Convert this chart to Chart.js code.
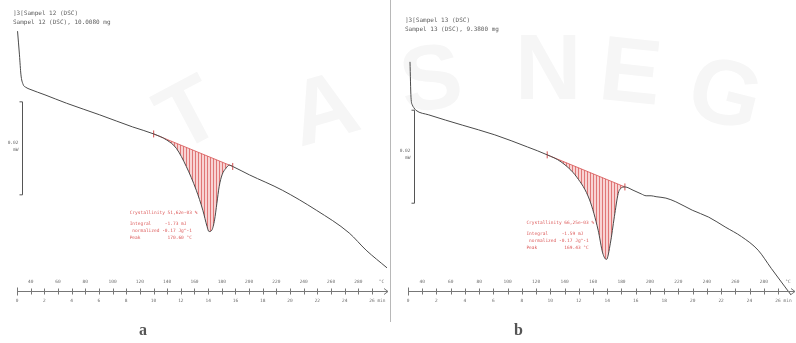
<!DOCTYPE html>
<html>
<head>
<meta charset="utf-8">
<script src="https://cdn.jsdelivr.net/npm/chart.js@4.4.1/dist/chart.umd.min.js"></script>
<style>
  html, body { margin: 0; padding: 0; background: #fff; }
  #wrap { position: relative; width: 796px; height: 343px; overflow: hidden; background: #fff; }
  #wrap canvas { position: absolute; top: 0; }
  #cA { left: 0; }
  #cB { left: 392px; }
  #divider { position: absolute; left: 390px; top: 0; width: 1px; height: 322px; background: #b8b8b8; }
  .tag { position: absolute; font: bold 16px "Liberation Serif", serif; color: #555; }
  .wm { position: absolute; font: bold 92px "Liberation Sans", sans-serif; color: #f6f6f6; transform-origin: center; }
</style>
</head>
<body>
<div id="wrap">
  <div class="wm" style="left:160px;top:60px;transform:rotate(-28deg)">T</div>
  <div class="wm" style="left:290px;top:55px;transform:rotate(-16deg)">A</div>
  <div class="wm" style="left:400px;top:25px;transform:rotate(-8deg)">S</div>
  <div class="wm" style="left:515px;top:15px;">N</div>
  <div class="wm" style="left:600px;top:18px;transform:rotate(6deg)">E</div>
  <div class="wm" style="left:690px;top:40px;transform:rotate(14deg)">G</div>
  <canvas id="cA" width="392" height="343"></canvas>
  <canvas id="cB" width="404" height="343"></canvas>
  <div id="divider"></div>
  <div class="tag" style="left:139px;top:321px">a</div>
  <div class="tag" style="left:514px;top:321px">b</div>
</div>
<script>
// Heating programme: 30 °C start, 10 K/min
const startTemp = 30;
const heatRate = 10;

// Axis annotations
const tempTicks = [40, 60, 80, 100, 120, 140, 160, 180, 200, 220, 240, 260, 280];
const minuteTicks = [0, 2, 4, 6, 8, 10, 12, 14, 16, 18, 20, 22, 24, 26];
const scaleBarMW = 0.02;

// Sampel 12 — temperature (°C) and heat flow (mW)
const tempA = [30.4, 31.8, 32.9, 34.4, 36.6, 39.5, 50.5, 66.3, 90.6, 114.7, 130.1, 139.6, 146.7, 154.0,
  161.3, 166.1, 169.2, 170.6, 172.7, 174.7, 176.4, 178.1, 180.2, 183.0, 185.6, 188.0, 200.2, 224.3,
  249.2, 273.3, 285.7, 301.0];
const heatA = [-0.0004, -0.0055, -0.0098, -0.0118, -0.0125, -0.0129, -0.0141, -0.0159, -0.0184, -0.0210,
  -0.0225, -0.0238, -0.0256, -0.0295, -0.0346, -0.0389, -0.0424, -0.0435, -0.0432, -0.0410, -0.0374,
  -0.0338, -0.0313, -0.0299, -0.0292, -0.0295, -0.0313, -0.0346, -0.0389, -0.0438, -0.0475, -0.0513];
const baseTempA = [130.1, 188.0];
const baseHeatA = [-0.0225, -0.0295];
const titleA = [']3[Sampel 12 (DSC)', 'Sampel 12 (DSC), 10.0080 mg'];
const resultA = { crystallinity: '51,62e-03 %', integral: '-1.73 mJ', normalized: '-0.17 Jg^-1' };

// Sampel 13 — temperature (°C) and heat flow (mW)
const tempB = [31.4, 32.1, 33.1, 34.2, 35.5, 44.6, 68.1, 91.0, 113.9, 127.8, 137.5, 148.6, 157.6, 163.6,
  166.8, 169.43, 172.2, 175.0, 177.7, 179.2, 182.4, 188.1, 193.9, 197.3, 200.8, 204.3, 211.2, 218.2,
  229.7, 241.3, 252.8, 264.4, 276.0, 285.2, 294.9, 299.8];
const heatB = [-0.0070, -0.0146, -0.0163, -0.0169, -0.0174, -0.0184, -0.0206, -0.0227, -0.0253, -0.0270,
  -0.0285, -0.0318, -0.0367, -0.0432, -0.0481, -0.0495, -0.0460, -0.0403, -0.0353, -0.0343, -0.0339,
  -0.0346, -0.0354, -0.0358, -0.0358, -0.0360, -0.0363, -0.0371, -0.0389, -0.0404, -0.0425, -0.0446,
  -0.0475, -0.0514, -0.0554, -0.0574];
const baseTempB = [127.8, 182.4];
const baseHeatB = [-0.0270, -0.0339];
const titleB = [']3[Sampel 13 (DSC)', 'Sampel 13 (DSC), 9.3800 mg'];
const resultB = { crystallinity: '66,25e-03 %', integral: '-1.59 mJ', normalized: '-0.17 Jg^-1' };

const mono = s => s + 'px "DejaVu Sans Mono", monospace';
const zip = (xs, ys) => xs.map((x, i) => ({ x: x, y: ys[i] }));

function hatchPattern() {
  const c = document.createElement('canvas');
  c.width = 3; c.height = 4;
  const g = c.getContext('2d');
  g.fillStyle = 'rgba(243,176,176,0.55)';
  g.fillRect(0, 0, 3, 4);
  g.fillStyle = 'rgba(214,80,80,0.7)';
  g.fillRect(0, 0, 1, 4);
  return g.createPattern(c, 'repeat');
}

// Draws the instrument-style time/temperature axis, titles, scale bar and evaluation text
const dscDecor = {
  id: 'dscDecor',
  afterDatasetsDraw(chart, args, o) {
    const ctx = chart.ctx, xs = chart.scales.x, ys = chart.scales.y;
    const px = t => xs.getPixelForValue(t);
    ctx.save();

    // header
    ctx.fillStyle = '#5e5e5e';
    ctx.font = mono(6);
    ctx.textAlign = 'left';
    ctx.textBaseline = 'middle';
    o.title.forEach((s, i) => ctx.fillText(s, o.titleX, o.titleY + i * 9));

    // scale bar
    const bx = Math.round(px(o.barTemp)) + 0.5;
    const y1 = ys.getPixelForValue(o.barTop), y2 = ys.getPixelForValue(o.barTop - scaleBarMW);
    ctx.strokeStyle = '#555';
    ctx.lineWidth = 1;
    ctx.beginPath();
    ctx.moveTo(bx - 3, y1); ctx.lineTo(bx, y1); ctx.lineTo(bx, y2); ctx.lineTo(bx - 3, y2);
    ctx.stroke();
    ctx.fillStyle = '#666';
    ctx.font = mono(4.5);
    ctx.textAlign = 'right';
    const mid = (y1 + y2) / 2;
    ctx.fillText(scaleBarMW.toFixed(2), bx - 4, mid - 6);
    ctx.fillText('mW', bx - 4, mid + 1);

    // time axis
    const ay = o.axisY + 0.5;
    const x0 = px(startTemp);
    const xEnd = o.axisEnd;
    ctx.strokeStyle = '#777';
    ctx.beginPath();
    ctx.moveTo(x0, ay); ctx.lineTo(xEnd, ay);
    for (let m = 0; ; m++) {
      const tx = Math.round(px(startTemp + heatRate * m)) + 0.5;
      if (tx > xEnd - 3) break;
      const h = m === 0 ? 4 : 3;
      ctx.moveTo(tx, ay - h); ctx.lineTo(tx, ay + h);
    }
    ctx.moveTo(xEnd - 4, ay - 3); ctx.lineTo(xEnd, ay); ctx.lineTo(xEnd - 4, ay + 3);
    ctx.stroke();

    ctx.fillStyle = '#707070';
    ctx.font = mono(4.5);
    ctx.textAlign = 'center';
    tempTicks.forEach(t => ctx.fillText(String(t), px(t), ay - 10));
    ctx.fillText('°C', px(startTemp + heatRate * 26.7), ay - 10);
    minuteTicks.forEach(m => {
      const tx = px(startTemp + heatRate * m);
      if (m === minuteTicks[minuteTicks.length - 1]) {
        ctx.textAlign = 'left';
        ctx.fillText(m + ' min', tx - ctx.measureText(String(m)).width / 2, ay + 9);
        ctx.textAlign = 'center';
      } else {
        ctx.fillText(String(m), tx, ay + 9);
      }
    });

    // evaluation results
    const r = o.result;
    const tx = px(o.textTemp), ty = ys.getPixelForValue(o.textHeat);
    ctx.fillStyle = '#dc5a5a';
    ctx.font = mono(4.5);
    ctx.textAlign = 'left';
    ctx.fillText('Crystallinity ' + r.crystallinity, tx, ty);
    ctx.fillText('Integral     ' + r.integral, tx, ty + 11);
    ctx.fillText(' normalized ' + r.normalized, tx, ty + 18);
    ctx.fillText('Peak          ' + o.peak.toFixed(2) + ' °C', tx, ty + 25);
    ctx.restore();
  }
};

function dscChart(id, temps, heats, baseT, baseH, cfg) {
  const curve = zip(temps, heats);
  const peakPart = curve.filter(p => p.x >= baseT[0] && p.x <= baseT[1]);
  // deepest point of the evaluated melting peak
  const peakPoint = peakPart.reduce((a, b) => (b.y < a.y ? b : a));
  return new Chart(document.getElementById(id), {
    type: 'line',
    data: {
      datasets: [
        { data: curve, borderColor: '#4a4a4a', borderWidth: 1, pointRadius: 0,
          cubicInterpolationMode: 'monotone', fill: false, order: 0 },
        { data: peakPart, borderWidth: 0, borderColor: 'rgba(0,0,0,0)', pointRadius: 0,
          cubicInterpolationMode: 'monotone', backgroundColor: hatchPattern(), fill: '+1', order: 2 },
        { data: zip(baseT, baseH), borderColor: '#d65050', borderWidth: 0.8, pointRadius: 3.5,
          pointStyle: 'line', rotation: 90, pointBorderColor: '#d65050', pointBorderWidth: 1,
          fill: false, order: 1 }
      ]
    },
    options: {
      responsive: false,
      animation: false,
      devicePixelRatio: 1,
      events: [],
      layout: { padding: cfg.padding },
      scales: {
        x: { type: 'linear', min: startTemp, max: cfg.xMax, display: false },
        y: { type: 'linear', min: -0.058, max: 0.002, display: false }
      },
      plugins: {
        legend: { display: false },
        tooltip: { enabled: false },
        dscDecor: Object.assign({ peak: peakPoint.x }, cfg.decor)
      }
    },
    plugins: [dscDecor]
  });
}

dscChart('cA', tempA, heatA, baseTempA, baseHeatA, {
  padding: { left: 17, right: 4, top: 20, bottom: 44 },
  xMax: 301,
  decor: { title: titleA, titleX: 13, titleY: 13, barTemp: 33.7, barTop: -0.0156,
    axisY: 291, axisEnd: 388, result: resultA, textTemp: 112.5, textHeat: -0.0395 }
});

dscChart('cB', tempB, heatB, baseTempB, baseHeatB, {
  padding: { left: 16, right: 0, top: 20, bottom: 44 },
  xMax: 299.1,
  decor: { title: titleB, titleX: 13, titleY: 20, barTemp: 34.2, barTop: -0.0174,
    axisY: 291, axisEnd: 403, result: resultB, textTemp: 113.2, textHeat: -0.0417 }
});
</script>
</body>
</html>
